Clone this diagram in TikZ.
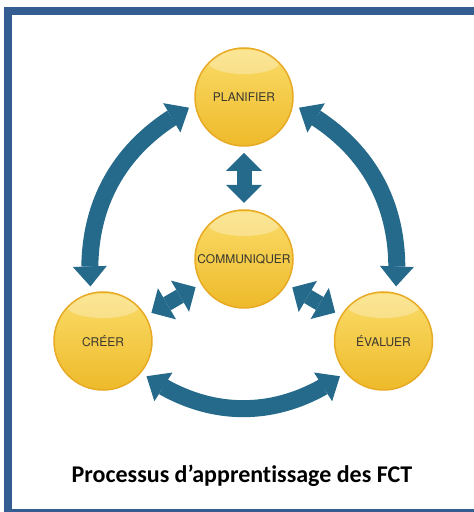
\documentclass[tikz,border=0pt]{standalone}
\usepackage{fontspec}
\setmainfont{Carlito}[Ligatures=NoCommon]
\newfontfamily\helv{TeX Gyre Heros}
\usetikzlibrary{arrows.meta,bending}

\definecolor{cadre}{RGB}{52,94,145}
\definecolor{fleche}{RGB}{37,106,138}
\definecolor{orclair}{RGB}{250,220,105}
\definecolor{orfonce}{RGB}{238,186,42}
\definecolor{orbord}{RGB}{232,170,36}
\definecolor{texte}{RGB}{58,56,48}

\begin{document}
\begin{tikzpicture}[x=1pt, y=1pt,
    etape/.style={circle, minimum size=98pt, inner sep=0pt, outer sep=7pt,
        top color=orclair, bottom color=orfonce, draw=orbord, line width=1.5pt,
        path picture={\fill[white, opacity=.3] ([yshift=35pt]path picture bounding box.center)
            ellipse [x radius=36pt, y radius=12pt];},
        text=texte, font=\helv\fontsize{12}{12}\selectfont},
    boucle/.style={fleche, line width=17pt,
        {Triangle[width=34pt, length=20pt, line width=0pt]}-{Triangle[width=34pt, length=20pt, line width=0pt]}},
    lien/.style={fleche, line width=15pt,
        {Triangle[width=36pt, length=18pt, line width=0pt]}-{Triangle[width=36pt, length=18pt, line width=0pt]}}]

    % Cadre
    \useasboundingbox (0,0) rectangle (474,512);
    \clip (0,0) rectangle (474,512);
    \draw[cadre, line width=8pt] (8,-1) rectangle (480,501);

    % Etapes
    \node[etape] (plan) at (244,415) {PLANIFIER};
    \node[etape] (comm) at (244,253) {COMMUNIQUER};
    \node[etape] (creer) at (103,171) {CRÉER};
    \node[etape] (eval) at (383.5,171) {ÉVALUER};

    % Cycle exterieur
    \draw[boucle] (plan.191) to[bend right=33] (creer.103);
    \draw[boucle] (plan.349) to[bend left=33] (eval.77);
    \draw[boucle] (creer.321) to[bend right=35] (eval.219);

    % Liens avec le centre
    \draw[lien] (plan) -- (comm);
    \draw[lien] (comm) -- (creer);
    \draw[lien] (comm) -- (eval);

    % Titre
    \node[font=\bfseries\fontsize{24}{24}\selectfont] (titre) at (242,36) {Processus d’apprentissage des FCT};
\end{tikzpicture}
\end{document}
